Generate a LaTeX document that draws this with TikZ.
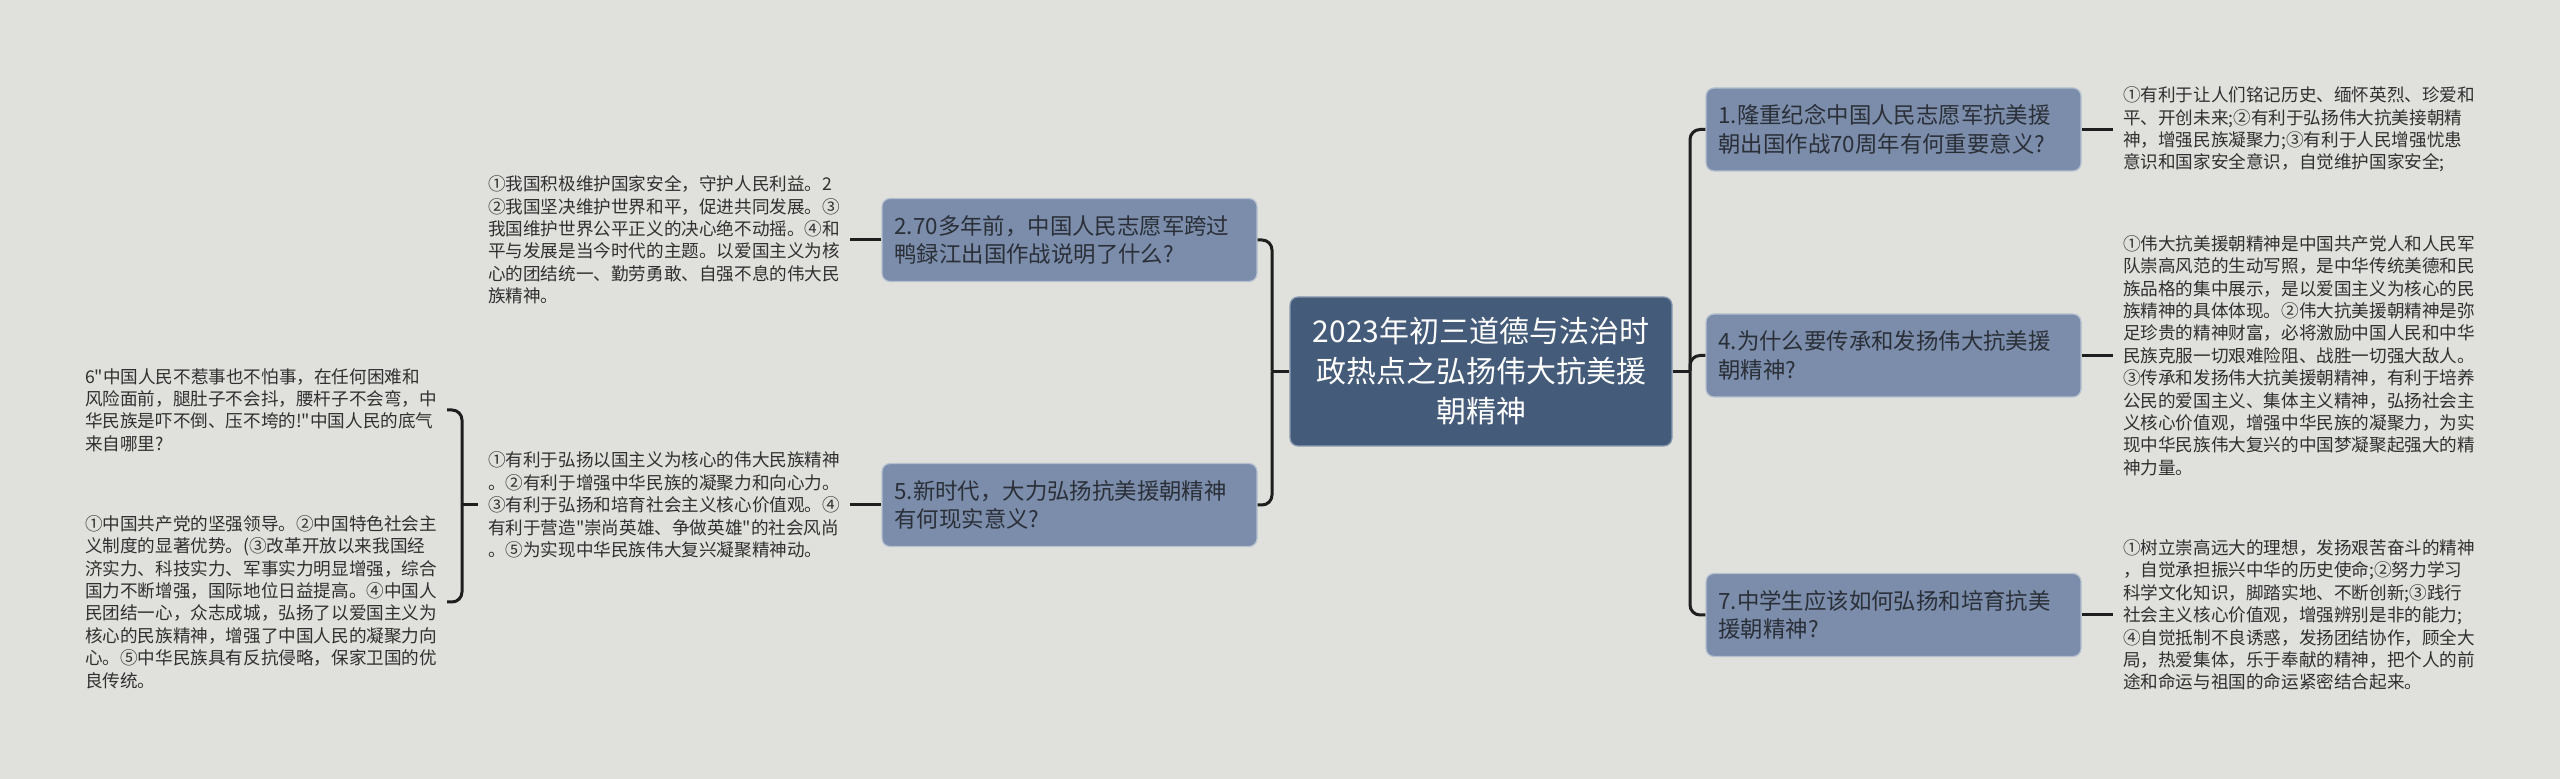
\documentclass[tikz,border=0pt]{standalone}
\usepackage{fontspec}
\setmainfont{Noto Sans CJK SC}[Ligatures=TeXOff]
\definecolor{cBg}{HTML}{E0E1DC}
\definecolor{cRoot}{HTML}{445B7A}
\definecolor{cRootEdge}{HTML}{8A9AB0}
\definecolor{cTopic}{HTML}{7B8DAA}
\definecolor{cTopicEdge}{HTML}{B5C0D0}
\definecolor{cTopicText}{HTML}{2A2F38}
\definecolor{cLeaf}{HTML}{303030}
\definecolor{cLine}{HTML}{1E1E1E}
\tikzset{
  root/.style={fill=cRoot, draw=cRootEdge, line width=0.6pt, rounded corners=4pt,
    minimum width=191pt, minimum height=74.5pt, text=white, align=center,
    font=\fontsize{15pt}{20pt}\selectfont, inner sep=0pt},
  topic/.style={fill=cTopic, draw=cTopicEdge, line width=0.6pt, rounded corners=4pt,
    minimum width=187.5pt, minimum height=41.5pt, text=cTopicText, align=left,
    text width=175pt, font=\fontsize{11.2pt}{14.3pt}\selectfont, inner xsep=6pt, inner ysep=0pt},
  leaf/.style={text=cLeaf, align=left, font=\fontsize{8.8pt}{11.2pt}\selectfont,
    inner xsep=5pt, inner ysep=0pt, outer sep=0pt},
  conn/.style={draw=cLine, line width=1.5pt, rounded corners=5pt},
}
\begin{document}
\begin{tikzpicture}[x=0.5pt,y=-0.5pt]
\fill[cBg] (0,0) rectangle (2560,779);
\useasboundingbox (0,0) rectangle (2560,779);

% root
\node[root] (root) at (1481,371.5) {2023年初三道德与法治时\\政热点之弘扬伟大抗美援\\朝精神};

% topics
\node[topic] (t2) at (1069.5,240) {2.70多年前，中国人民志愿军跨过\\鸭録江出国作战说明了什么?};
\node[topic] (t5) at (1069.5,505) {5.新时代，大力弘扬抗美援朝精神\\有何现实意义?};
\node[topic] (t1) at (1893.5,129.5) {1.隆重纪念中国人民志愿军抗美援\\朝出国作战70周年有何重要意义?};
\node[topic] (t4) at (1893.5,355.5) {4.为什么要传承和发扬伟大抗美援\\朝精神?};
\node[topic] (t7) at (1893.5,615) {7.中学生应该如何弘扬和培育抗美\\援朝精神?};

% leaves right
\node[leaf, anchor=west] (l1) at (2113,129.5) {①有利于让人们铭记历史、缅怀英烈、珍爱和\\平、开创未来;②有利于弘扬伟大抗美接朝精\\神，增强民族凝聚力;③有利于人民增强忧患\\意识和国家安全意识，自觉维护国家安全;};
\node[leaf, anchor=west] (l4) at (2113,355.5) {①伟大抗美援朝精神是中国共产党人和人民军\\队崇高风范的生动写照，是中华传统美德和民\\族品格的集中展示，是以爱国主义为核心的民\\族精神的具体体现。②伟大抗美援朝精神是弥\\足珍贵的精神财富，必将激励中国人民和中华\\民族克服一切艰难险阻、战胜一切强大敌人。\\③传承和发扬伟大抗美援朝精神，有利于培养\\公民的爱国主义、集体主义精神，弘扬社会主\\义核心价值观，增强中华民族的凝聚力，为实\\现中华民族伟大复兴的中国梦凝聚起强大的精\\神力量。};
\node[leaf, anchor=west] (l7) at (2113,615) {①树立崇高远大的理想，发扬艰苦奋斗的精神\\，自觉承担振兴中华的历史使命;②努力学习\\科学文化知识，脚踏实地、不断创新;③践行\\社会主义核心价值观，增强辨别是非的能力;\\④自觉抵制不良诱惑，发扬团结协作，顾全大\\局，热爱集体，乐于奉献的精神，把个人的前\\途和命运与祖国的命运紧密结合起来。};

% leaves left
\node[leaf, anchor=west] (l2) at (478,240) {①我国积极维护国家安全，守护人民利益。2\\②我国坚决维护世界和平，促进共同发展。③\\我国维护世界公平正义的决心绝不动摇。④和\\平与发展是当今时代的主题。以爱国主义为核\\心的团结统一、勤劳勇敢、自强不息的伟大民\\族精神。};
\node[leaf, anchor=west] (l5) at (478,505) {①有利于弘扬以国主义为核心的伟大民族精神\\。②有利于增强中华民族的凝聚力和向心力。\\③有利于弘扬和培育社会主义核心价值观。④\\有利于营造"崇尚英雄、争做英雄"的社会风尚\\。⑤为实现中华民族伟大复兴凝聚精神动。};
\node[leaf, anchor=west] (la) at (75,410) {6"中国人民不惹事也不怕事，在任何困难和\\风险面前，腿肚子不会抖，腰杆子不会弯，中\\华民族是吓不倒、压不垮的!"中国人民的底气\\来自哪里?};
\node[leaf, anchor=west] (lb) at (75,602) {①中国共产党的坚强领导。②中国特色社会主\\义制度的显著优势。(③改革开放以来我国经\\济实力、科技实力、军事实力明显增强，综合\\国力不断增强，国际地位日益提高。④中国人\\民团结一心，众志成城，弘扬了以爱国主义为\\核心的民族精神，增强了中国人民的凝聚力向\\心。⑤中华民族具有反抗侵略，保家卫国的优\\良传统。};

% connectors root -> topics
\coordinate (rb) at (1690,371.5);
\coordinate (lbus) at (1272,371.5);
\draw[conn] (root.east) -- (rb);
\draw[conn] (rb) |- (t1.west);
\draw[conn] (rb) |- (t4.west);
\draw[conn] (rb) |- (t7.west);
\draw[conn] (root.west) -- (lbus);
\draw[conn] (lbus) |- (t2.east);
\draw[conn] (lbus) |- (t5.east);

% topics -> leaves
\draw[conn] (t1.east) -- (l1.west);
\draw[conn] (t4.east) -- (l4.west);
\draw[conn] (t7.east) -- (l7.west);
\draw[conn] (t2.west) -- (l2.east);
\draw[conn] (t5.west) -- (l5.east);

% leaf 5 -> sub leaves
\coordinate (b5) at (462,505);
\draw[conn] (l5.west) -- (b5);
\draw[conn] (b5) |- (la.east);
\draw[conn] (b5) |- (lb.east);
\end{tikzpicture}
\end{document}
